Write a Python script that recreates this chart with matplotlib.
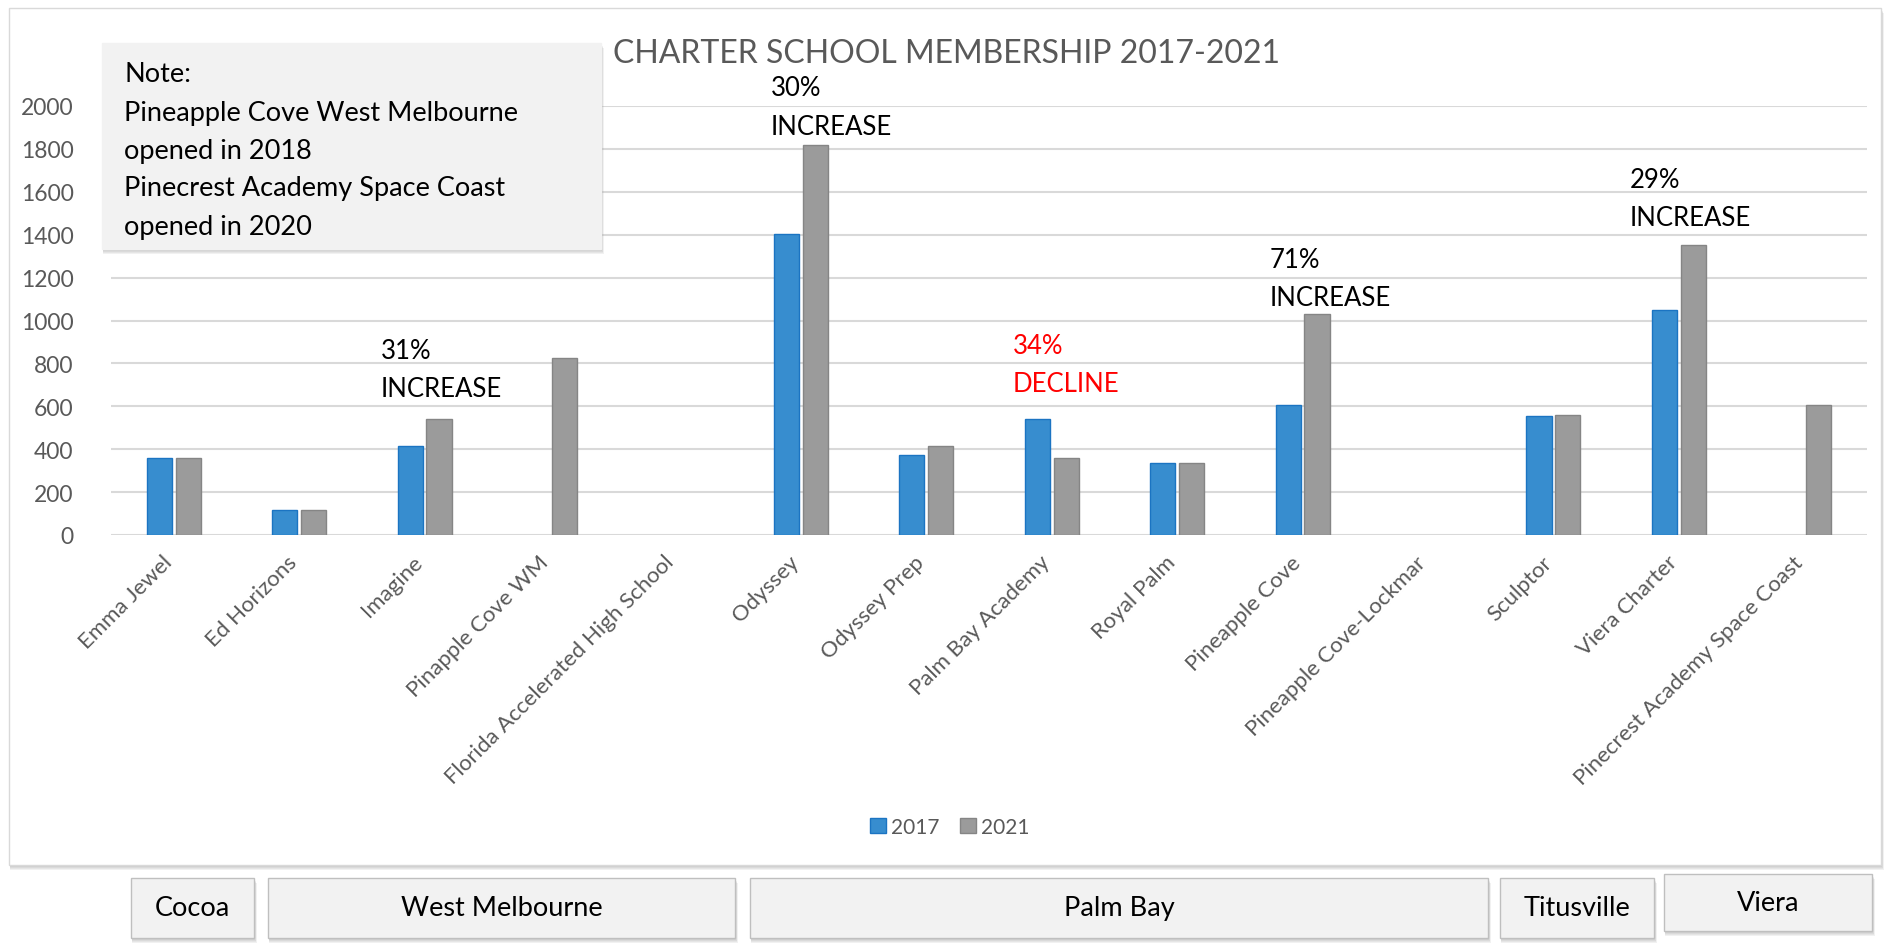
import matplotlib.pyplot as plt
import matplotlib.transforms as mtransforms
import numpy as np
from matplotlib.patches import Rectangle

# chart data
schools = ['Emma Jewel', 'Ed Horizons', 'Imagine', 'Pinapple Cove WM',
           'Florida Accelerated High School', 'Odyssey', 'Odyssey Prep',
           'Palm Bay Academy', 'Royal Palm', 'Pineapple Cove',
           'Pineapple Cove-Lockmar', 'Sculptor', 'Viera Charter',
           'Pinecrest Academy Space Coast']
members_2017 = [358, 118, 413, np.nan, np.nan, 1405, 375, 543, 336, 605, np.nan, 553, 1048, np.nan]
members_2021 = [358, 118, 540, 827, np.nan, 1818, 415, 359, 334, 1029, np.nan, 560, 1352, 606]
years = ['2017', '2021']

# change callouts: (percent, word, x in category units, y of first line, y of second line, colour)
callouts = [
    ('31%', 'INCREASE', 1.65, 858, 683, 'black'),
    ('30%', 'INCREASE', 4.76, 2084, 1905, 'black'),
    ('34%', 'DECLINE', 6.69, 885, 705, 'red'),
    ('71%', 'INCREASE', 8.74, 1283, 1109, 'black'),
    ('29%', 'INCREASE', 11.61, 1658, 1479, 'black'),
]

note_lines = ['Note:', 'Pineapple Cove West Melbourne', 'opened in 2018',
              'Pinecrest Academy Space Coast', 'opened in 2020']

# city boxes under the chart, in pixels: (name, x0, y0, x1, y1)
cities = [
    ('Cocoa', 131, 879, 254, 939),
    ('West Melbourne', 268, 879, 735, 939),
    ('Palm Bay', 750, 879, 1488, 939),
    ('Titusville', 1500, 879, 1654, 939),
    ('Viera', 1664, 875, 1872, 932),
]

W, H = 1885, 945
BLUE, BLUE_EDGE = '#378dcf', '#1b74c2'
GRAY, GRAY_EDGE = '#9b9b9b', '#858585'
TXT = '#595959'

plt.rcParams['font.family'] = ['Lato', 'DejaVu Sans']

fig = plt.figure(figsize=(W / 100, H / 100), dpi=100)


def px_rect(x0, y0, x1, y1):
    return (x0 / W, 1 - y1 / H), (x1 - x0) / W, (y1 - y0) / H


def shadow_box(x0, y0, x1, y1, face, edge, z):
    # soft shadow: a few offset translucent rectangles
    for k in range(1, 6):
        xy, rw, rh = px_rect(x0 + 1, y0 + k, x1 + k * 0.6, y1 + k)
        fig.add_artist(Rectangle(xy, rw, rh, transform=fig.transFigure, facecolor='#7f7f7f',
                                 edgecolor='none', alpha=0.10, zorder=z - 0.5))
    xy, rw, rh = px_rect(x0, y0, x1, y1)
    fig.add_artist(Rectangle(xy, rw, rh, transform=fig.transFigure,
                             facecolor=face, edgecolor=edge, linewidth=1, zorder=z))


# outer chart panel
shadow_box(9, 9, 1881, 866, 'white', '#d9d9d9', 0)

ax = fig.add_axes([111 / W, 1 - 536 / H, 1756 / W, (536 - 107) / H])
ax.set_facecolor('none')
ax.set_zorder(2)

x = np.arange(len(schools))
w = 0.2
ax.bar(x - 0.115, members_2017, w, color=BLUE, edgecolor=BLUE_EDGE, linewidth=1, label=years[0], zorder=3)
ax.bar(x + 0.115, members_2021, w, color=GRAY, edgecolor=GRAY_EDGE, linewidth=1, label=years[1], zorder=3)

ax.set_xlim(-0.5, len(schools) - 0.5)
ax.set_ylim(0, 2000)
ax.set_yticks(np.arange(0, 2001, 200))
ax.yaxis.grid(True, color='#d9d9d9', linewidth=1.5)
ax.set_axisbelow(True)
for s in ax.spines.values():
    s.set_visible(False)
ax.tick_params(axis='y', length=0, pad=27, labelsize=16.5, labelcolor=TXT)
ax.tick_params(axis='x', length=0, pad=12)
ax.set_xticks(x)
ax.set_xticklabels(schools, rotation=45, ha='right', rotation_mode='anchor',
                   color=TXT, fontsize=16)
# nudge the slanted labels a little to the left, like the reference
shift = mtransforms.ScaledTranslation(-0.12, 0, fig.dpi_scale_trans)
for lbl in ax.get_xticklabels():
    lbl.set_transform(lbl.get_transform() + shift)

for pct, word, cx, y1, y2, col in callouts:
    ax.text(cx, y1, pct, color=col, fontsize=18.5, ha='left', va='center', clip_on=False, zorder=5)
    ax.text(cx, y2, word, color=col, fontsize=18.5, ha='left', va='center', clip_on=False, zorder=5)

ax.legend(loc='center', bbox_to_anchor=(0.504, 1 - 828 / H), bbox_transform=fig.transFigure,
          ncol=2, frameon=False, handlelength=0.75, handleheight=0.75, handletextpad=0.25,
          columnspacing=1.0, fontsize=15, labelcolor=TXT)

fig.text(946 / W, 1 - 54 / H, 'CHARTER SCHOOL MEMBERSHIP 2017-2021', color=TXT,
         fontsize=23, ha='center', va='center', zorder=6)

# note box
shadow_box(102, 44, 601, 250, '#f2f2f2', '#f2f2f2', 4)
for i, line in enumerate(note_lines):
    fig.text(124 / W, 1 - (75 + i * 38) / H, line, color='black', fontsize=19.5,
             ha='left', va='center', zorder=6)

# city boxes
for name, x0, y0, x1, y1 in cities:
    shadow_box(x0, y0, x1, y1, '#f2f2f2', '#bfbfbf', 4)
    fig.text((x0 + x1) / 2 / W, 1 - (y0 + y1) / 2 / H, name, color='black', fontsize=19.5,
             ha='center', va='center', zorder=6)

fig.savefig('out.png', dpi=100)
